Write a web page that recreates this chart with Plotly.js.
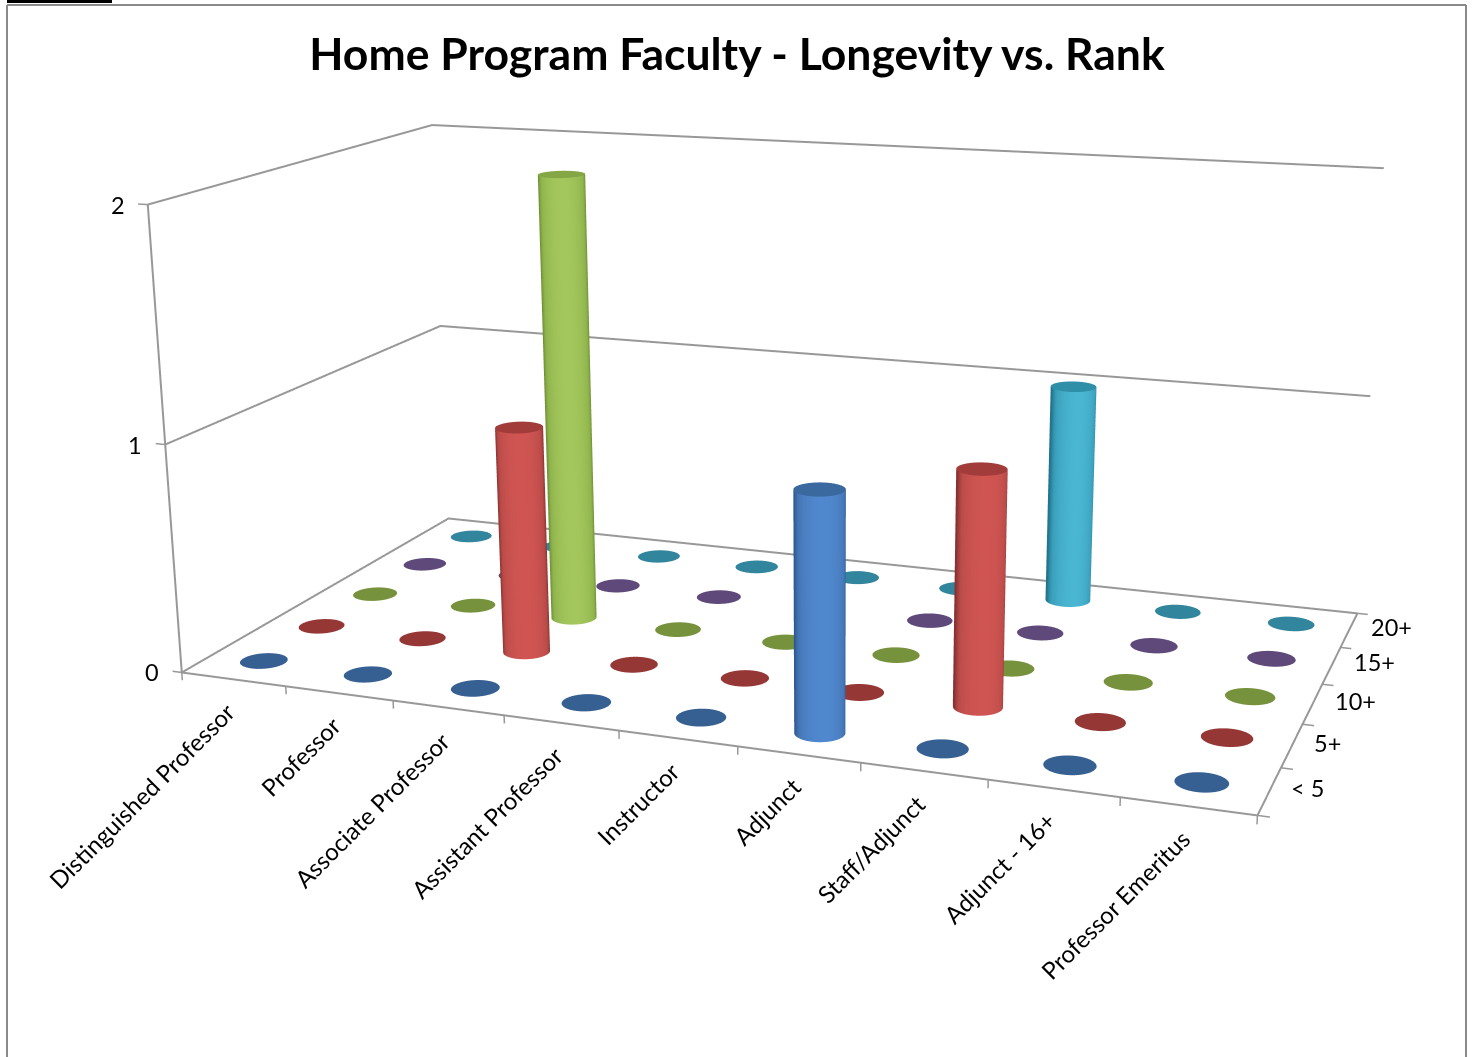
<!DOCTYPE html>
<html>
<head>
<meta charset="utf-8">
<script src="https://cdn.plot.ly/plotly-3.0.1.min.js"></script>
<style>
html,body{margin:0;padding:0;width:1473px;height:1057px;overflow:hidden;background:#fff}
#chart{position:absolute;left:-735px;top:-574px;width:2946px;height:2154px}
</style>
</head>
<body>
<div id="chart"></div>
<script>
const categories = ["Distinguished Professor","Professor","Associate Professor","Assistant Professor","Instructor","Adjunct","Staff/Adjunct","Adjunct - 16+","Professor Emeritus"];
const seriesNames = ["< 5","5+","10+","15+","20+"];
const valuesLt5 = [0,0,0,0,0,1,0,0,0];
const values5 = [0,0,1,0,0,0,1,0,0];
const values10 = [0,0,2,0,0,0,0,0,0];
const values15 = [0,0,0,0,0,0,0,0,0];
const values20 = [0,0,0,0,0,0,1,0,0];
const zTicks = [0,1,2];
const seriesValues = [valuesLt5,values5,values10,values15,values20];
// dark edge, mid, highlight, disc, cap
const seriesColors = [
  ["#2c5890","#4577b6","#5088cf","#366092","#3a699f"],
  ["#873130","#bb4c49","#d05552","#953735","#a23c3a"],
  ["#6c8b33","#90b54d","#a3c75c","#76923c","#84a644"],
  ["#4a3663","#7a5c9c","#8a6cae","#5f497a","#5f497a"],
  ["#21758c","#3a9fbb","#4ab6d2","#31859c","#2f8ea8"]
];

const W = 2946, H = 2154, OX = 735, OY = 574;
const px = x => (x + OX) / W, py = y => 1 - (y + OY) / H;
const nX = categories.length, nY = seriesNames.length, zMax = zTicks[zTicks.length-1];
const unit = {x:1.594/nX, y:0.86/nY, z:0.70/zMax};
const pad = {x:0.6, y:0.6, z:0.2};
const aspect = {x:unit.x*(nX+2*pad.x), y:unit.y*(nY+2*pad.y), z:unit.z*(zMax+2*pad.z)};
const camera = {eye:{x:1.300,y:-3.524,z:0.950}, center:{x:-0.032,y:-0.111,z:-0.102}, up:{x:0.0088,y:0.0034,z:1}};
const eyeAngle = Math.atan2(camera.eye.y-camera.center.y, camera.eye.x-camera.center.x);
const rx = 0.2, ry = rx*unit.x/unit.y;
const N = 48, thetas = Array.from({length:N+1},(_,i)=>i/N*2*Math.PI);

function flat(color){return [[0,color],[1,color]];}
function disc(cx,cy,z,color){
  const xs=[[],[]], ys=[[],[]], zs=[[],[]], sc=[[],[]];
  thetas.forEach(t=>{
    xs[0].push(cx); ys[0].push(cy); zs[0].push(z); sc[0].push(0);
    xs[1].push(cx+rx*Math.cos(t)); ys[1].push(cy+ry*Math.sin(t)); zs[1].push(z); sc[1].push(0);
  });
  return surf(xs,ys,zs,sc,flat(color));
}
function tube(cx,cy,v,c){
  const xs=[[],[]], ys=[[],[]], zs=[[],[]], sc=[[],[]];
  thetas.forEach(t=>{
    const s=Math.max(0,Math.cos(t-eyeAngle-0.1));
    [0,1].forEach(k=>{
      xs[k].push(cx+rx*Math.cos(t)); ys[k].push(cy+ry*Math.sin(t)); zs[k].push(k*v); sc[k].push(s);
    });
  });
  return surf(xs,ys,zs,sc,[[0,c[0]],[0.12,c[0]],[0.5,c[1]],[1,c[2]]]);
}
function surf(x,y,z,sc,colorscale){
  return {type:"surface",x,y,z,surfacecolor:sc,colorscale,cmin:0,cmax:1,showscale:false,hoverinfo:"skip",
    lighting:{ambient:1,diffuse:0,specular:0,roughness:1,fresnel:0},
    contours:{x:{show:false},y:{show:false},z:{show:false}}};
}
const gray="#989898";
function polyline(segments,width){
  const x=[],y=[],z=[];
  segments.forEach(seg=>{seg.forEach(p=>{x.push(p[0]);y.push(p[1]);z.push(p[2]);});x.push(null);y.push(null);z.push(null);});
  return {type:"scatter3d",mode:"lines",x,y,z,line:{color:gray,width},hoverinfo:"skip",showlegend:false,connectgaps:false};
}
const traces=[];
// walls, floor edges and gridlines
const frameSegs=zTicks.map(v=>[[0,0,v],[0,nY,v],[nX,nY,v]]);
frameSegs.push([[0,0,0],[0,0,zMax]]);
frameSegs.push([[0,0,0],[nX,0,0],[nX,nY,0]]);
traces.push(polyline(frameSegs,4));
// tick marks
const tickSegs=[];
for(let i=0;i<=nX;i++) tickSegs.push([[i,0,0],[i,0,-0.035]]);
for(let j=0;j<=nY;j++) tickSegs.push([[nX,j,0],[nX+0.09,j,0]]);
zTicks.forEach(v=>tickSegs.push([[0,0,v],[-0.09,0,v]]));
traces.push(polyline(tickSegs,3));

seriesValues.forEach((vals,s)=>{
  vals.forEach((v,c)=>{
    const cx=c+0.5, cy=s+0.5, col=seriesColors[s];
    if(v>0){traces.push(tube(cx,cy,v,col));traces.push(disc(cx,cy,v,col[4]));}
    else traces.push(disc(cx,cy,0,col[3]));
  });
});

const catFont={family:"Lato, Carlito, sans-serif",size:24,color:"#000"};
const tickFont={family:"Lato, Carlito, sans-serif",size:23.5,color:"#000"};
const annotations=[];
categories.forEach((t,i)=>annotations.push({x:i+0.5,y:0,z:0,text:t,showarrow:false,textangle:-45,xanchor:"right",yanchor:"top",xshift:10,yshift:-15,font:catFont}));
seriesNames.forEach((t,i)=>annotations.push({x:nX,y:i+0.5,z:0,text:t,showarrow:false,xanchor:"left",yanchor:"middle",xshift:20,yshift:3,font:tickFont}));
zTicks.forEach(v=>annotations.push({x:0,y:0,z:v,text:String(v),showarrow:false,xanchor:"right",yanchor:"middle",xshift:-21,yshift:0,font:tickFont}));

const axisBase={visible:false,showbackground:false,showspikes:false,autorange:false};
const layout={
  width:W,height:H,margin:{l:0,r:0,t:0,b:0},paper_bgcolor:"#fff",showlegend:false,
  title:{text:"<b>Home Program Faculty - Longevity vs. Rank</b>",font:{family:"Lato, Carlito, sans-serif",size:44.5,color:"#000"},
    x:px(737),xref:"paper",xanchor:"center",y:py(54),yref:"paper",yanchor:"middle"},
  scene:{domain:{x:[0,1],y:[0,1]},dragmode:"orbit",aspectmode:"manual",aspectratio:aspect,camera,annotations,
    xaxis:{...axisBase,range:[-pad.x,nX+pad.x]},
    yaxis:{...axisBase,range:[-pad.y,nY+pad.y]},
    zaxis:{...axisBase,range:[-pad.z,zMax+pad.z]}},
  shapes:[
    {type:"line",xref:"paper",yref:"paper",x0:px(7),x1:px(7),y0:py(5),y1:py(1057),line:{color:"#8a8a8a",width:2}},
    {type:"line",xref:"paper",yref:"paper",x0:px(7),x1:px(1466),y0:py(5),y1:py(5),line:{color:"#8a8a8a",width:2}},
    {type:"line",xref:"paper",yref:"paper",x0:px(1466),x1:px(1466),y0:py(5),y1:py(1057),line:{color:"#8a8a8a",width:2}},
    {type:"rect",xref:"paper",yref:"paper",x0:px(7),x1:px(112),y0:py(0),y1:py(3),fillcolor:"#000",line:{width:0}}
  ]
};
Plotly.newPlot("chart",traces,layout,{displayModeBar:false});
</script>
</body>
</html>
